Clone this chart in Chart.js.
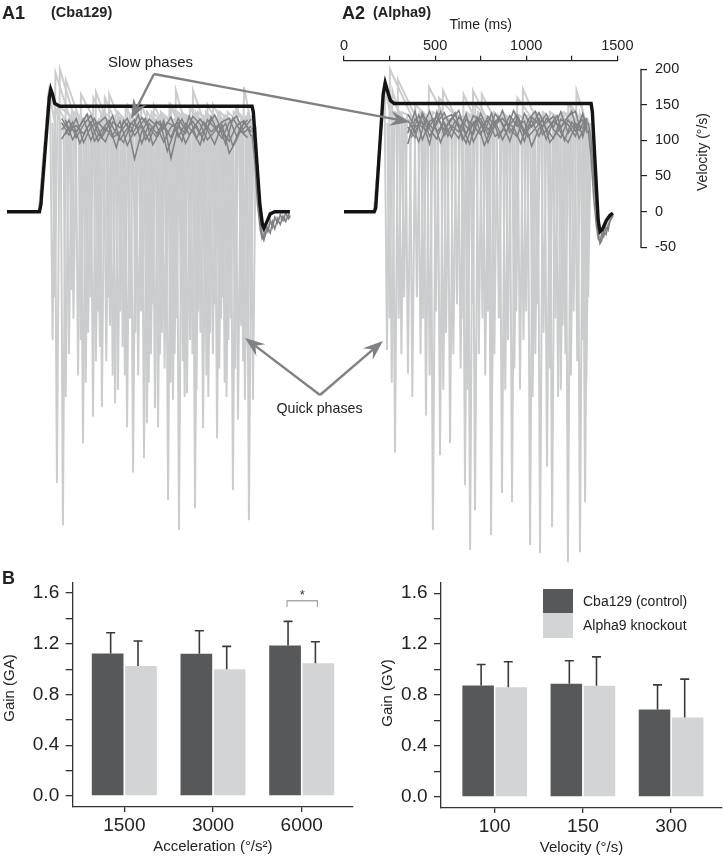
<!DOCTYPE html>
<html>
<head>
<meta charset="utf-8">
<script src="https://cdn.jsdelivr.net/npm/chart.js@4.4.1/dist/chart.umd.min.js"></script>
<style>
html,body{margin:0;padding:0;background:#fff;}
#wrap{position:relative;width:724px;height:860px;overflow:hidden;font-family:"Liberation Sans",Arial,Helvetica,sans-serif;color:#222;}
canvas{position:absolute;}
.lg{position:absolute;}
.lt{position:absolute;font-size:14px;line-height:18px;white-space:nowrap;}
svg{position:absolute;left:0;top:0;pointer-events:none;}
</style>
</head>
<body>
<div id="wrap">
  <canvas id="a1" width="300" height="600" style="left:0;top:0"></canvas>
  <canvas id="a2" width="424" height="600" style="left:300px;top:0"></canvas>
  <canvas id="b1" width="362" height="300" style="left:0;top:560px"></canvas>
  <canvas id="b2" width="362" height="300" style="left:362px;top:560px"></canvas>
  <div class="lg" style="left:543px;top:589px;width:30px;height:24px;background:#56585a"></div>
  <div class="lg" style="left:543px;top:613px;width:30px;height:25px;background:#d3d4d6"></div>
  <div class="lt" style="left:583px;top:592px">Cba129 (control)</div>
  <div class="lt" style="left:583px;top:616px">Alpha9 knockout</div>
  <svg id="ov" width="724" height="860" xmlns="http://www.w3.org/2000/svg">
    <g font-family="Liberation Sans, Arial, Helvetica, sans-serif" fill="#222">
      <text x="2" y="13" font-size="18" font-weight="bold" dominant-baseline="central">A1</text>
      <text x="51" y="12" font-size="14.5" font-weight="bold" dominant-baseline="central">(Cba129)</text>
      <text x="342" y="13" font-size="18" font-weight="bold" dominant-baseline="central">A2</text>
      <text x="373" y="12" font-size="14.5" font-weight="bold" dominant-baseline="central">(Alpha9)</text>
      <text x="2" y="578" font-size="18" font-weight="bold" dominant-baseline="central">B</text>
      <text x="150.5" y="61" font-size="15" text-anchor="middle" dominant-baseline="central">Slow phases</text>
      <text x="319.5" y="408" font-size="14.2" text-anchor="middle" dominant-baseline="central">Quick phases</text>
    </g>
    <g id="arrows"></g>
  </svg>
</div>
<script>
// ---------------- DATA ----------------
// A1 (Cba129) stimulus / head velocity (black)
const a1StimTime = [0,178,186,232,240,250,262,290,1345,1352,1388,1402,1410,1425,1445,1470,1553];
const a1StimVel  = [0,0,10,160,172,165,152,148,148,140,10,-18,-23,-15,-3,0,0];
// A1 quick phases (light gray): time, trough velocity, recovery velocity
const a1QuickTime = [250,274,307,340,365,390,417,445,472,500,521,545,565,593,609,635,659,675,692,720,735,752,768,790,812,829,850,865,884,911,930,944,965,988,1005,1032,1050,1076,1095,1115,1130,1153,1175,1195,1215,1240,1268,1285,1306,1320,1328,1350];
const a1QuickPeak = [-180,-381,-440,-200,-150,-230,-325,-170,-288,-140,-274,-210,-160,-269,-250,-190,-303,-150,-366,-230,-140,-346,-297,-200,-276,-303,-170,-220,-405,-264,-150,-447,-210,-255,-180,-416,-140,-304,-230,-170,-200,-318,-150,-240,-180,-391,-292,-160,-264,-190,-433,-264];
const a1QuickTop  = [195,200,185,140,130,165,135,130,168,135,160,165,130,140,130,145,135,130,140,150,130,140,135,150,130,140,135,130,150,170,135,140,135,145,170,140,130,140,135,150,130,140,135,140,130,145,135,175,140,130,135,120];
const a1Quick2Time = [262,322,355,405,432,458,488,510,555,580,622,647,705,745,778,800,840,876,898,920,955,975,1018,1040,1062,1085,1105,1142,1165,1185,1205,1228,1252,1296,1338];
const a1Quick2Peak = [-120,-260,-110,-180,-240,-120,-210,-190,-120,-230,-140,-230,-170,-120,-240,-130,-200,-120,-240,-200,-130,-260,-200,-250,-170,-120,-260,-130,-220,-120,-260,-150,-220,-210,-150];
const a1Quick2Top  = [150,130,140,125,135,160,130,140,125,135,130,150,135,125,140,130,135,150,130,140,125,135,140,130,135,150,130,140,125,135,130,140,150,135,125];
const a1LightStartT = [0,176,230];
const a1LightStartV = [0,0,168];
const a1LightEndT = [1372,1398,1412,1440,1480,1520,1553];
const a1LightEndV = [70,-25,-35,-18,-8,-12,-4];
// A1 slow phases (dark gray)
const a1SlowTime = [300,340,380,420,460,500,540,580,620,660,700,740,780,820,860,900,940,980,1020,1060,1100,1140,1180,1220,1260,1300,1340];
const a1Slow1 = [115,128,104,122,135,110,98,126,118,131,107,121,99,127,116,133,105,124,112,94,129,118,103,125,134,111,120];
const a1Slow2 = [125,108,131,97,119,126,113,135,101,117,129,96,124,110,122,104,131,115,127,108,119,136,114,99,121,128,106];
const a1Slow3 = [102,119,112,130,100,124,133,107,127,93,115,132,118,105,128,75,120,110,134,123,101,113,126,131,106,117,130];
const a1Slow4 = [131,114,121,109,126,99,118,104,112,124,74,113,130,121,98,119,125,96,117,130,115,95,122,82,101,126,112];
const a1SlowTimeB = [320,360,400,440,480,520,560,600,640,680,720,760,800,840,880,920,960,1000,1040,1080,1120,1160,1200,1240,1280,1320];
const a1Slow5 = [108,126,96,118,131,104,122,90,128,112,136,101,119,127,85,114,130,108,121,99,133,110,124,92,117,129];
const a1Slow6 = [129,101,120,137,99,115,128,110,97,124,118,131,94,112,125,120,99,134,103,126,112,122,95,131,114,104];
const a1EndTime = [1345,1360,1375,1390,1400,1410,1420,1432,1445,1458,1470,1485,1500,1515,1530,1545,1553];
const a1End1 = [118,95,40,-15,-32,-40,-30,-22,-30,-14,-24,-10,-18,-6,-14,-4,-9];
const a1End2 = [108,70,10,-25,-38,-33,-20,-28,-12,-22,-8,-16,-4,-12,-2,-10,-6];

// A2 (Alpha9)
const a2StimTime = [0,166,174,215,226,236,255,275,1356,1363,1395,1405,1418,1440,1460,1476];
const a2StimVel  = [0,0,5,165,181,172,156,152,152,140,-12,-28,-25,-12,-5,-2];
const a2QuickTime = [236,280,300,351,400,420,450,488,527,560,582,620,640,664,692,719,740,760,807,812,850,867,900,922,945,966,1000,1021,1050,1076,1095,1114,1142,1175,1200,1229,1260,1280,1295,1323,1340];
const a2QuickPeak = [-194,-338,-150,-227,-120,-200,-286,-447,-342,-170,-325,-130,-220,-384,-475,-419,-200,-150,-454,-269,-150,-395,-180,-408,-140,-250,-140,-468,-200,-479,-170,-358,-443,-260,-160,-492,-140,-210,-478,-408,-120];
const a2QuickTop  = [200,185,140,135,140,130,175,135,170,130,140,135,165,135,170,140,165,135,140,130,140,135,130,140,135,172,130,140,135,140,130,140,135,140,130,150,170,135,140,130,125];
const a2Quick2Time = [250,262,315,330,375,435,470,505,545,600,655,678,705,775,790,825,885,935,985,1035,1060,1130,1160,1190,1215,1245,1310,1330];
const a2Quick2Peak = [-150,-240,-200,-120,-260,-150,-230,-140,-250,-200,-150,-250,-130,-230,-140,-200,-250,-220,-180,-260,-130,-220,-150,-250,-200,-230,-180,-240];
const a2Quick2Top  = [170,140,130,135,150,125,140,160,130,135,140,130,150,125,140,135,130,160,135,140,125,135,130,140,150,135,130,125];
const a2LightStartT = [0,165,222];
const a2LightStartV = [0,0,175];
const a2LightEndT = [1365,1400,1410,1440,1476];
const a2LightEndV = [70,-35,-40,-15,-5];
const a2SlowTime = [350,390,430,470,510,550,590,630,670,710,750,790,830,870,910,950,990,1030,1070,1110,1150,1190,1230,1270,1310,1335];
const a2Slow1 = [95,130,118,141,112,125,104,133,120,109,138,115,127,101,122,136,113,128,106,131,119,140,110,124,117,132];
const a2Slow2 = [128,112,135,106,124,139,117,103,130,121,108,134,119,142,111,126,99,133,122,137,115,104,129,113,136,121];
const a2Slow3 = [110,141,101,127,133,115,129,142,108,135,126,97,123,131,117,105,138,119,131,102,127,118,134,141,105,128];
const a2Slow4 = [137,119,126,95,140,107,121,112,137,98,119,128,106,114,135,120,127,92,117,125,134,111,97,120,129,110];
const a2Slow5 = [119,104,139,116,102,131,136,118,96,126,131,108,137,124,99,132,109,121,139,116,103,130,122,106,138,115];
const a2SlowTimeB = [370,410,450,490,530,570,610,650,690,730,770,810,850,890,930,970,1010,1050,1090,1130,1170,1210,1250,1290,1325];
const a2Slow6 = [122,98,131,115,140,106,127,118,95,133,112,138,104,125,119,96,129,141,108,121,135,100,126,114,131];
const a2Slow7 = [104,136,112,128,97,124,139,101,119,127,93,116,133,110,142,123,105,117,130,97,112,126,141,103,120];
const a2EndTime = [1340,1355,1370,1385,1395,1405,1415,1425,1438,1450,1462,1476];
const a2End1 = [125,105,50,0,-30,-45,-40,-28,-32,-18,-12,-6];
const a2End2 = [115,80,20,-20,-38,-42,-30,-35,-22,-26,-10,-4];

const quickOnsetLevel = 125;   // slow-phase velocity just before each quick phase
const timeTicks = [0,250,500,750,1000,1250,1500];
const velocityTicks = [-50,0,50,100,150,200];

// B: gains
const accelCats = ['1500','3000','6000'];
const gaCba = [1.124,1.121,1.187];
const gaCbaErr = [0.164,0.182,0.190];
const gaAlpha = [1.025,1.000,1.046];
const gaAlphaErr = [0.197,0.180,0.170];
const velCats = ['100','150','300'];
const gvCba = [0.875,0.888,0.687];
const gvCbaErr = [0.165,0.181,0.193];
const gvAlpha = [0.862,0.873,0.623];
const gvAlphaErr = [0.199,0.227,0.302];
const gainTicks = [0,0.2,0.4,0.6,0.8,1.0,1.2,1.4,1.6];

// ---------------- STYLE ----------------
const FONT = '"Liberation Sans", Arial, Helvetica, sans-serif';
Chart.defaults.font.family = FONT;
Chart.defaults.color = '#222';
const BLACK = '#141414', DARKG = '#7f8184', LIGHTG = '#cbcccd';
const BAR_DARK = '#56585a', BAR_LIGHT = '#d3d4d6';

function pairs(t, v){ return t.map((x,i)=>({x:x, y:v[i]})); }
function lineDS(points, color, width, order){
  return {data: points, borderColor: color, borderWidth: width, pointRadius: 0, tension: 0, fill: false, order: order, borderJoinStyle: 'miter'};
}
function quickTraces(times, peaks, tops, sT, sV, eT, eV, n){
  const out = [];
  for (let k = 0; k < n; k++){
    const pts = pairs(sT, sV);
    for (let j = k; j < times.length; j += n){
      pts.push({x: times[j]-12, y: quickOnsetLevel});
      pts.push({x: times[j], y: peaks[j]});
      pts.push({x: times[j]+16, y: tops[j]});
    }
    pairs(eT, eV).forEach(p=>pts.push(p));
    out.push(pts);
  }
  return out;
}

const a1Datasets = [
  lineDS(pairs(a1StimTime, a1StimVel), BLACK, 3.4, 0),
  ...[a1Slow1,a1Slow2,a1Slow3,a1Slow4].map(s=>lineDS(pairs(a1SlowTime, s), DARKG, 1.5, 1)),
  ...[a1Slow5,a1Slow6].map(s=>lineDS(pairs(a1SlowTimeB, s), DARKG, 1.5, 1)),
  ...[a1End1,a1End2].map(s=>lineDS(pairs(a1EndTime, s), DARKG, 1.5, 1)),
  ...quickTraces(a1QuickTime,a1QuickPeak,a1QuickTop,a1LightStartT,a1LightStartV,a1LightEndT,a1LightEndV,4).map(p=>lineDS(p, LIGHTG, 2, 2)),
  ...quickTraces(a1Quick2Time,a1Quick2Peak,a1Quick2Top,[],[],[],[],3).map(p=>lineDS(p, LIGHTG, 2, 2))
];
const a2Datasets = [
  lineDS(pairs(a2StimTime, a2StimVel), BLACK, 3.4, 0),
  ...[a2Slow1,a2Slow2,a2Slow3,a2Slow4,a2Slow5].map(s=>lineDS(pairs(a2SlowTime, s), DARKG, 1.5, 1)),
  ...[a2Slow6,a2Slow7].map(s=>lineDS(pairs(a2SlowTimeB, s), DARKG, 1.5, 1)),
  ...[a2End1,a2End2].map(s=>lineDS(pairs(a2EndTime, s), DARKG, 1.5, 1)),
  ...quickTraces(a2QuickTime,a2QuickPeak,a2QuickTop,a2LightStartT,a2LightStartV,a2LightEndT,a2LightEndV,4).map(p=>lineDS(p, LIGHTG, 2, 2)),
  ...quickTraces(a2Quick2Time,a2Quick2Peak,a2Quick2Top,[],[],[],[],3).map(p=>lineDS(p, LIGHTG, 2, 2))
];

const baseOpts = {
  responsive: false, animation: false, events: [],
  plugins: {legend: {display: false}, tooltip: {enabled: false}},
  elements: {point: {radius: 0}, line: {tension: 0}}
};

// A1: no axes
new Chart(document.getElementById('a1'), {
  type: 'line',
  data: {datasets: a1Datasets},
  options: Object.assign({}, baseOpts, {
    layout: {padding: {left: 7, right: 1.5, top: 60.7, bottom: 25}},
    scales: {
      x: {type: 'linear', min: 0, max: 1600, display: false},
      y: {type: 'linear', min: -510, max: 212, display: false}
    }
  })
});

// A2: time axis on top, velocity axis on right
const a2AxisPlugin = {
  id: 'a2axes',
  afterDraw(chart){
    const {ctx, chartArea, scales: {x, y}} = chart;
    ctx.save();
    ctx.strokeStyle = '#222'; ctx.lineWidth = 1.3;
    ctx.beginPath();
    ctx.moveTo(x.getPixelForValue(timeTicks[0]) - 0.6, chartArea.top);
    ctx.lineTo(x.getPixelForValue(timeTicks[timeTicks.length-1]) + 0.6, chartArea.top);
    ctx.stroke();
    ctx.beginPath();
    ctx.moveTo(chartArea.right, y.getPixelForValue(velocityTicks[velocityTicks.length-1]) - 0.6);
    ctx.lineTo(chartArea.right, y.getPixelForValue(velocityTicks[0]) + 0.6);
    ctx.stroke();
    ctx.fillStyle = '#222';
    ctx.font = '14px ' + FONT;
    ctx.textAlign = 'center'; ctx.textBaseline = 'middle';
    ctx.fillText('Time (ms)', x.getPixelForValue(750), 25);
    ctx.translate(403, 152);
    ctx.rotate(-Math.PI/2);
    ctx.fillText('Velocity (°/s)', 0, 0);
    ctx.restore();
  }
};
new Chart(document.getElementById('a2'), {
  type: 'line',
  data: {datasets: a2Datasets},
  options: Object.assign({}, baseOpts, {
    layout: {padding: {left: 44, right: 0, top: 0, bottom: 25}},
    scales: {
      x: {
        type: 'linear', position: 'top', min: 0, max: 1630,
        afterFit(s){ s.height = 60.7; },
        afterBuildTicks(s){ s.ticks = timeTicks.map(v=>({value: v})); },
        ticks: {autoSkip: false, maxRotation: 0, padding: 1, color: '#222', font: {size: 14.5},
          callback: (v)=> (v % 500 === 0 ? String(v) : '')},
        grid: {drawOnChartArea: false, tickLength: 5, color: '#222', lineWidth: 1.2},
        border: {display: false}
      },
      y: {
        type: 'linear', position: 'right', min: -510, max: 212,
        afterFit(s){ s.width = 83; },
        afterBuildTicks(s){ s.ticks = velocityTicks.map(v=>({value: v})); },
        ticks: {autoSkip: false, padding: 8, color: '#222', font: {size: 14.5}},
        grid: {drawOnChartArea: false, tickLength: 6, color: '#222', lineWidth: 1.2},
        border: {display: false}
      }
    }
  }),
  plugins: [a2AxisPlugin]
});

// B bar charts
function barPlugin(cfg){
  return {
    id: 'bextras',
    afterDatasetsDraw(chart){
      const {ctx, scales: {y}} = chart;
      ctx.save();
      ctx.strokeStyle = '#3a3a3a'; ctx.lineWidth = 1.6;
      cfg.errors.forEach((errs, di)=>{
        const meta = chart.getDatasetMeta(di);
        meta.data.forEach((bar, i)=>{
          const v = chart.data.datasets[di].data[i].y;
          const top = y.getPixelForValue(v + errs[i]);
          const xx = bar.x + (di === 0 ? 3 : -3);
          ctx.beginPath();
          ctx.moveTo(xx, bar.y); ctx.lineTo(xx, top);
          ctx.moveTo(xx - 4.5, top); ctx.lineTo(xx + 4.5, top);
          ctx.stroke();
        });
      });
      if (cfg.sig){
        const g = cfg.sig.group;
        const x1 = chart.getDatasetMeta(0).data[g].x + 2;
        const x2 = chart.getDatasetMeta(1).data[g].x - 1;
        const yb = y.getPixelForValue(cfg.sig.bracket), yd = y.getPixelForValue(cfg.sig.drop);
        ctx.strokeStyle = '#a9abad'; ctx.lineWidth = 1.3;
        ctx.beginPath();
        ctx.moveTo(x1, yd); ctx.lineTo(x1, yb); ctx.lineTo(x2, yb); ctx.lineTo(x2, yd);
        ctx.stroke();
        ctx.fillStyle = '#333'; ctx.font = '13px ' + FONT;
        ctx.textAlign = 'center'; ctx.textBaseline = 'middle';
        ctx.fillText('*', (x1 + x2) / 2, y.getPixelForValue(cfg.sig.star) + 2);
      }
      ctx.fillStyle = '#222'; ctx.font = '15px ' + FONT;
      ctx.textAlign = 'center'; ctx.textBaseline = 'middle';
      const ca = chart.chartArea;
      ctx.fillText(cfg.xTitle, (ca.left + ca.right) / 2, cfg.xTitleY);
      ctx.translate(cfg.yTitleX, cfg.yTitleY);
      ctx.rotate(-Math.PI/2);
      ctx.fillText(cfg.yTitle, 0, 0);
      ctx.restore();
    }
  };
}
function barChart(id, cats, v1, v2, e1, e2, xr, yAxisW, padRight, xH, cfg){
  return new Chart(document.getElementById(id), {
    type: 'bar',
    data: {datasets: [
      {label: 'Cba129 (control)', data: cats.map((c,i)=>({x: i, y: v1[i]})), backgroundColor: BAR_DARK, borderWidth: 0},
      {label: 'Alpha9 knockout', data: cats.map((c,i)=>({x: i, y: v2[i]})), backgroundColor: BAR_LIGHT, borderWidth: 0}
    ]},
    options: Object.assign({}, baseOpts, {
      layout: {padding: {left: 0, right: padRight, top: 23, bottom: 0}},
      datasets: {bar: {categoryPercentage: 0.752, barPercentage: 0.95}},
      scales: {
        x: {
          type: 'linear', min: xr[0], max: xr[1], offset: false,
          afterFit(s){ s.height = xH; },
          afterBuildTicks(s){ s.ticks = cats.map((c,i)=>({value: i})); },
          ticks: {autoSkip: false, maxRotation: 0, padding: 2, color: '#222', font: {size: 19},
            callback: (v)=> cats[v]},
          grid: {offset: false, drawOnChartArea: false, tickLength: 5, color: '#333', lineWidth: 1.3},
          border: {display: true, color: '#333', width: 1.3}
        },
        y: {
          type: 'linear', min: -0.087, max: 1.68,
          afterFit(s){ s.width = yAxisW; },
          afterBuildTicks(s){ s.ticks = gainTicks.map(v=>({value: v})); },
          ticks: {autoSkip: false, padding: 6.5, color: '#222', font: {size: 19},
            callback: (v, i)=> (i % 2 === 0 ? v.toFixed(1) : '')},
          grid: {drawOnChartArea: false, tickLength: 7, color: '#333', lineWidth: 1.3},
          border: {display: true, color: '#333', width: 1.3}
        }
      }
    }),
    plugins: [barPlugin(Object.assign({errors: [e1, e2]}, cfg))]
  });
}
barChart('b1', accelCats, gaCba, gaAlpha, gaCbaErr, gaAlphaErr, [-0.582, 2.578], 72.7, 9, 53,
  {xTitle: 'Acceleration (°/s²)', xTitleY: 287, yTitle: 'Gain (GA)', yTitleX: 9.5, yTitleY: 128,
   sig: {group: 2, bracket: 1.54, drop: 1.49, star: 1.60}});
barChart('b2', velCats, gvCba, gvAlpha, gvCbaErr, gvAlphaErr, [-0.609, 2.577], 79, 2, 52,
  {xTitle: 'Velocity (°/s)', xTitleY: 288, yTitle: 'Gain (GV)', yTitleX: 26, yTitleY: 133});

// annotation arrows
(function(){
  const g = document.getElementById('arrows');
  const NS = 'http://www.w3.org/2000/svg';
  const COL = '#7f8184';
  function arrow(x0, y0, x1, y1){
    const dx = x1-x0, dy = y1-y0, len = Math.hypot(dx, dy);
    const ux = dx/len, uy = dy/len, px = -uy, py = ux;
    const L = 20, W = 7.5, N = 13;
    const bx = x1-ux*L, by = y1-uy*L, nx = x1-ux*N, ny = y1-uy*N;
    const ln = document.createElementNS(NS, 'line');
    ln.setAttribute('x1', x0); ln.setAttribute('y1', y0); ln.setAttribute('x2', nx); ln.setAttribute('y2', ny);
    ln.setAttribute('stroke', COL); ln.setAttribute('stroke-width', 2.4);
    g.appendChild(ln);
    const pg = document.createElementNS(NS, 'polygon');
    pg.setAttribute('points', [x1,y1, bx+px*W,by+py*W, nx,ny, bx-px*W,by-py*W].join(' '));
    pg.setAttribute('fill', COL);
    g.appendChild(pg);
  }
  arrow(154, 74, 131, 119);
  arrow(154, 74, 410, 122);
  arrow(320, 395, 245, 338);
  arrow(320, 395, 383, 341);
})();
</script>
</body>
</html>
